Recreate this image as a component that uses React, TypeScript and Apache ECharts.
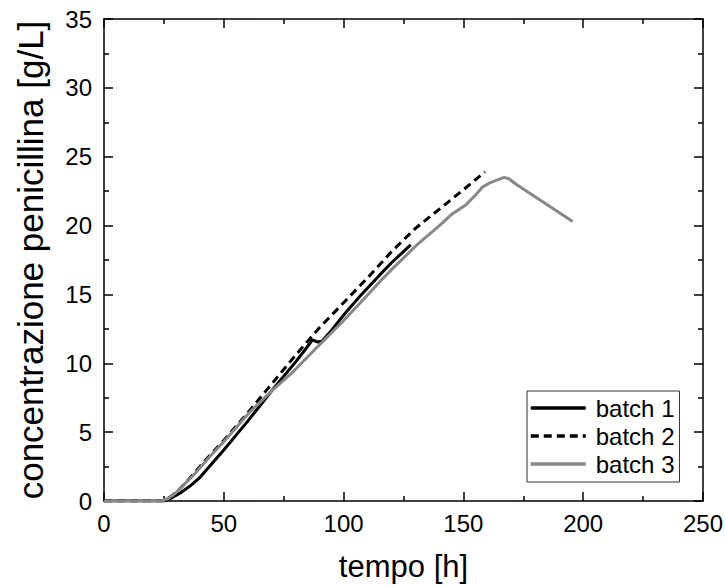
import React, { useEffect, useRef } from "react";
import * as echarts from "echarts";

const batch1Time = [0, 25, 28, 32, 36, 40, 44, 50, 60, 70, 80, 84, 87, 89, 91, 95, 100, 107, 115, 120, 128];
const batch1Conc = [0, 0, 0.2, 0.6, 1.1, 1.7, 2.5, 3.7, 5.8, 8.0, 10.1, 11.0, 11.7, 11.55, 11.6, 12.4, 13.5, 14.9, 16.4, 17.3, 18.6];

const batch2Time = [0, 24, 26, 30, 34, 38, 42, 50, 60, 70, 80, 90, 100, 110, 120, 130, 140, 150, 159];
const batch2Conc = [0, 0, 0.1, 0.6, 1.3, 2.1, 2.9, 4.4, 6.4, 8.5, 10.6, 12.6, 14.4, 16.2, 18.1, 19.8, 21.2, 22.6, 23.9];

const batch3Time = [0, 24, 27, 30, 34, 38, 44, 50, 60, 70, 79, 88, 92, 96, 100, 107, 115, 120, 130, 140, 145, 151, 155, 158, 161, 164, 167, 169, 172, 195.6];
const batch3Conc = [0, 0, 0.2, 0.6, 1.3, 2.0, 3.2, 4.3, 6.3, 8.0, 9.4, 11.0, 11.7, 12.4, 13.1, 14.4, 15.9, 16.8, 18.5, 20.0, 20.8, 21.5, 22.2, 22.8, 23.1, 23.3, 23.5, 23.4, 23.0, 20.3];

const seriesNames = ["batch 1", "batch 2", "batch 3"];
const xTitle = "tempo [h]";
const yTitle = "concentrazione penicillina [g/L]";

const zip = (a: number[], b: number[]) => a.map((v, i) => [v, b[i]]);

const FONT = "Liberation Sans, Arial, sans-serif";

export default function App() {
  const ref = useRef<HTMLDivElement>(null);
  useEffect(() => {
    if (!ref.current) return;
    const chart = echarts.init(ref.current, undefined, { renderer: "svg" });
    const axisLine = { show: true, onZero: false, lineStyle: { color: "#000", width: 1.5 } };
    const axisTick = { show: true, inside: true, length: 9, lineStyle: { color: "#000", width: 1.5 } };
    const minorTick = { show: true, splitNumber: 2, length: 5, lineStyle: { color: "#000", width: 1.5 } };
    chart.setOption({
      animation: false,
      backgroundColor: "#fff",
      grid: { left: 104, right: 23, top: 19, bottom: 85 },
      xAxis: [
        {
          type: "value", min: 0, max: 250, interval: 50,
          axisLine, axisTick, minorTick,
          splitLine: { show: false },
          axisLabel: { color: "#000", fontSize: 24, fontFamily: FONT, margin: 10 },
          name: xTitle, nameLocation: "middle", nameGap: 50,
          nameTextStyle: { color: "#000", fontSize: 31, fontFamily: FONT },
        },
        {
          type: "value", position: "top", min: 0, max: 250, interval: 50,
          axisLine, axisTick, minorTick,
          splitLine: { show: false }, axisLabel: { show: false },
        },
      ],
      yAxis: [
        {
          type: "value", min: 0, max: 35, interval: 5,
          axisLine, axisTick, minorTick,
          splitLine: { show: false },
          axisLabel: { color: "#000", fontSize: 24, fontFamily: FONT, margin: 12 },
          name: yTitle, nameLocation: "middle", nameGap: 56,
          nameTextStyle: { color: "#000", fontSize: 35, fontFamily: FONT },
        },
        {
          type: "value", position: "right", min: 0, max: 35, interval: 5,
          axisLine, axisTick, minorTick,
          splitLine: { show: false }, axisLabel: { show: false },
        },
      ],
      legend: {
        left: 527, top: 391, orient: "vertical",
        padding: [5, 5, 6, 2],
        borderColor: "#333", borderWidth: 1,
        itemWidth: 55, itemHeight: 14, itemGap: 4,
        itemStyle: { opacity: 0 },
        lineStyle: { width: 3.5 },
        textStyle: { color: "#000", fontSize: 24, fontFamily: FONT, lineHeight: 24, padding: [0, 0, 0, 5] },
        data: seriesNames,
      },
      series: [
        {
          name: seriesNames[0], type: "line", data: zip(batch1Time, batch1Conc),
          showSymbol: false, symbol: "none",
          lineStyle: { color: "#000", width: 3 }, itemStyle: { color: "#000", opacity: 0 },
        },
        {
          name: seriesNames[1], type: "line", data: zip(batch2Time, batch2Conc),
          showSymbol: false, symbol: "none",
          lineStyle: { color: "#000", width: 3, type: [8, 5] }, itemStyle: { color: "#000", opacity: 0 },
        },
        {
          name: seriesNames[2], type: "line", data: zip(batch3Time, batch3Conc),
          showSymbol: false, symbol: "none",
          lineStyle: { color: "#888", width: 3 }, itemStyle: { color: "#888", opacity: 0 },
        },
      ],
    });
    return () => chart.dispose();
  }, []);
  return <div ref={ref} style={{ width: 726, height: 587, position: "absolute", left: 0, top: 0 }} />;
}
